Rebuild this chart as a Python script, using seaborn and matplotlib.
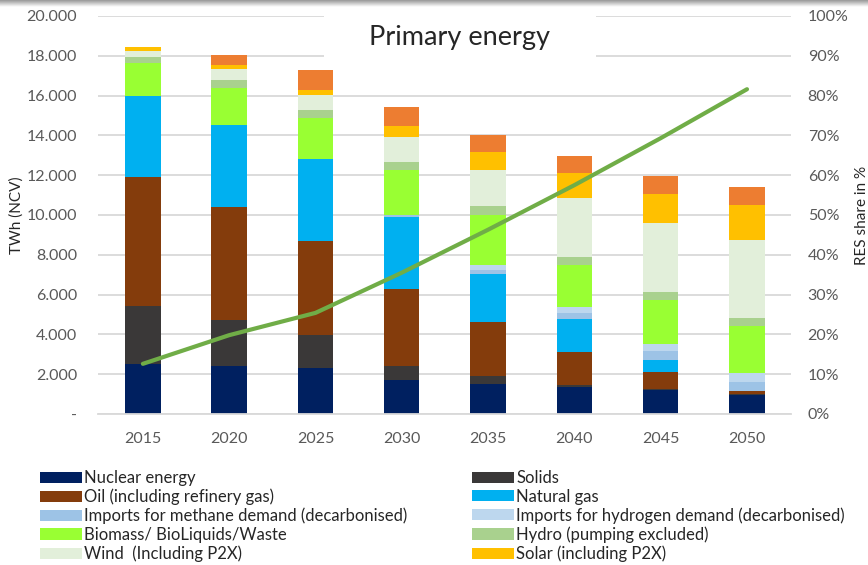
import numpy as np
import seaborn as sns
import matplotlib.pyplot as plt
from matplotlib.patches import Patch, Rectangle
from matplotlib.ticker import FuncFormatter, MultipleLocator

# values (TWh)
years = ["2015", "2020", "2025", "2030", "2035", "2040", "2045", "2050"]
nuclear = [2530, 2400, 2300, 1710, 1510, 1340, 1220, 970]
solids = [2880, 2310, 1660, 710, 420, 130, 40, 30]
oil = [6510, 5670, 4710, 3860, 2670, 1660, 840, 140]
natural_gas = [4060, 4120, 4150, 3600, 2430, 1640, 610, 0]
imports_methane = [0, 0, 0, 110, 220, 300, 440, 450]
imports_hydrogen = [0, 0, 0, 0, 220, 310, 370, 470]
biomass = [1670, 1900, 2050, 2280, 2510, 2110, 2210, 2350]
hydro = [300, 360, 390, 390, 460, 420, 420, 410]
wind = [310, 560, 750, 1240, 1840, 2950, 3450, 3940]
solar = [160, 230, 290, 590, 870, 1260, 1470, 1740]
other = [0, 490, 970, 920, 860, 820, 910, 920]
res_share = [0.126, 0.198, 0.254, 0.355, 0.463, 0.575, 0.693, 0.816]

series = [
    ("Nuclear energy", nuclear, "#002060"),
    ("Solids", solids, "#3A3838"),
    ("Oil (including refinery gas)", oil, "#843C0C"),
    ("Natural gas", natural_gas, "#00B0F0"),
    ("Imports for methane demand (decarbonised)", imports_methane, "#9DC3E6"),
    ("Imports for hydrogen demand (decarbonised)", imports_hydrogen, "#BDD7EE"),
    ("Biomass/ BioLiquids/Waste", biomass, "#99FF33"),
    ("Hydro (pumping excluded)", hydro, "#A9D18E"),
    ("Wind  (Including P2X)", wind, "#E2EFDA"),
    ("Solar (including P2X)", solar, "#FFC000"),
    (None, other, "#ED7D31"),
]

sns.set_style("white")
plt.rcParams["font.family"] = ["Lato", "DejaVu Sans"]
tick_color = "#595959"
grid_color = "#D9D9D9"

fig = plt.figure(figsize=(8.68, 5.65), dpi=100)
ax = fig.add_axes([0.1129, 0.2673, 0.7984, 0.7044])

# stacked bars: draw cumulative totals from the top layer down
cum = np.cumsum([s[1] for s in series], axis=0)
for i in reversed(range(len(series))):
    sns.barplot(x=years, y=cum[i], color=series[i][2], saturation=1,
                width=0.41, linewidth=0, ax=ax, zorder=2)

ax.set_ylim(0, 20000)
ax.set_xlim(-0.52, 7.51)
ax.yaxis.set_major_locator(MultipleLocator(2000))
ax.yaxis.set_major_formatter(FuncFormatter(
    lambda v, p: "-" if v == 0 else f"{v:,.0f}".replace(",", ".")))
ax.set_axisbelow(True)
ax.grid(axis="y", color=grid_color, linewidth=1.3)
for side in ["top", "left", "right"]:
    ax.spines[side].set_visible(False)
ax.spines["bottom"].set_color(grid_color)
ax.spines["bottom"].set_linewidth(1.3)
ax.tick_params(axis="y", length=0, pad=15, labelsize=11.5, labelcolor=tick_color)
ax.tick_params(axis="x", length=0, pad=13, labelsize=11.5, labelcolor=tick_color)
ax.set_xlabel("")
ax.set_ylabel("TWh (NCV)", fontsize=11, labelpad=2)

# RES share line on secondary axis
ax2 = ax.twinx()
sns.lineplot(x=years, y=res_share, ax=ax2, color="#70AD47", linewidth=3,
             solid_capstyle="round")
ax2.set_ylim(0, 1)
ax2.yaxis.set_major_locator(MultipleLocator(0.1))
ax2.yaxis.set_major_formatter(FuncFormatter(lambda v, p: f"{v * 100:.0f}%"))
ax2.tick_params(axis="y", length=0, pad=12, labelsize=11.5, labelcolor=tick_color)
for side in ax2.spines:
    ax2.spines[side].set_visible(False)
ax2.set_ylabel("RES share in %", fontsize=11, labelpad=5)
ax2.set_xlim(-0.52, 7.51)

# title box that hides the gridlines behind it
ax.add_patch(Rectangle((0.326, 0.882), 0.393, 0.13, transform=ax.transAxes,
                       facecolor="white", edgecolor="none", zorder=3,
                       clip_on=False))
ax.text(0.522, 0.945, "Primary energy", transform=ax.transAxes, fontsize=19.5,
        ha="center", va="center", zorder=4)

# legend in two columns
handles = [Patch(facecolor=c, edgecolor="none", label=n) for n, _, c in series if n]
leg_kw = dict(frameon=False, fontsize=12, handlelength=2.5, handleheight=0.65,
              handletextpad=0.15, labelspacing=0.155, borderpad=0, borderaxespad=0,
              loc="upper left")
fig.legend(handles=handles[0::2], bbox_to_anchor=(40 / 868, 1 - 470 / 565), **leg_kw)
fig.legend(handles=handles[1::2], bbox_to_anchor=(472 / 868, 1 - 470 / 565), **leg_kw)

# grey shadow along the top edge
top = fig.add_axes([0, 1 - 7 / 565, 1, 7 / 565])
top.imshow(np.linspace(0.6, 1.0, 20).reshape(-1, 1), aspect="auto",
           cmap="gray", vmin=0, vmax=1, extent=(0, 1, 0, 1))
top.axis("off")

fig.savefig("out.png", dpi=100)
